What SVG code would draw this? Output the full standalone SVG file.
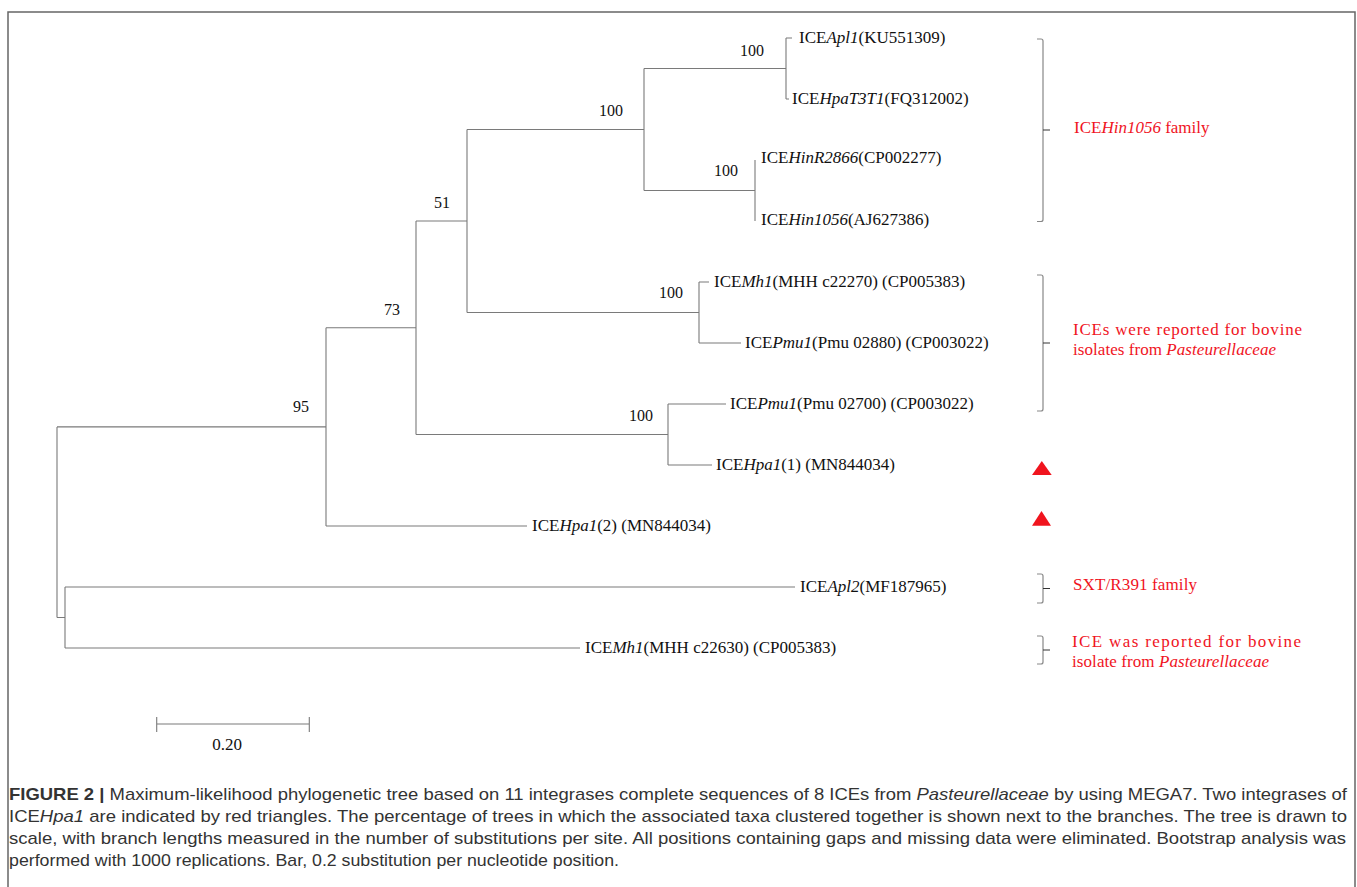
<svg xmlns="http://www.w3.org/2000/svg" width="1357" height="887" viewBox="0 0 1357 887">
<style>
.br{fill:none;stroke:#7a7a7a;stroke-width:1.1}
.lf{font-family:"Liberation Serif","Times New Roman",serif;font-size:17px;fill:#111}
.bs{font-family:"Liberation Serif","Times New Roman",serif;font-size:16px;fill:#111;text-anchor:end}
.red{font-family:"Liberation Serif","Times New Roman",serif;font-size:17px;fill:#f0141e}
.brace{fill:none;stroke:#888;stroke-width:1.2}
.tick{fill:none;stroke:#333;stroke-width:1}
.tri{fill:#f0141e}
.cap{font-family:"Liberation Sans",Arial,sans-serif;font-size:17px;fill:#333}
.it{font-style:italic}
</style>
<rect x="0" y="0" width="1357" height="887" fill="#fff"/>
<path d="M8,887 V12 H1355 V887" fill="none" stroke="#666" stroke-width="1.5"/>

<g id="connectors" class="br">
<path d="M57,426.9 V617.5 M57,426.9 H326 M57,617.5 H65"/>
<path d="M326,327.75 V526 M326,327.75 H416 M326,526 H527"/>
<path d="M416,221 V434.5 M416,221 H467 M416,434.5 H668"/>
<path d="M467,129.5 V312.5 M467,129.5 H644 M467,312.5 H699"/>
<path d="M644,68.5 V190.5 M644,68.5 H786 M644,190.5 H755"/>
<path d="M786,38 V99 M786,38 H792 M786,99 H789"/>
<path d="M755,160 V221"/>
<path d="M699,282 V343 M699,282 H709 M699,343 H741"/>
<path d="M668,404 V465 M668,404 H726 M668,465 H712"/>
<path d="M65,587 V648 M65,587 H795 M65,648 H580"/>
</g>

<g id="leaf-apl1"><text class="lf" x="799" y="42.5">ICE<tspan class="it">Apl1</tspan>(KU551309)</text></g>
<g id="leaf-hpat3t1"><text class="lf" x="792" y="103.5">ICE<tspan class="it">HpaT3T1</tspan>(FQ312002)</text></g>
<g id="leaf-hinr2866"><text class="lf" x="761" y="163">ICE<tspan class="it">HinR2866</tspan>(CP002277)</text></g>
<g id="leaf-hin1056"><text class="lf" x="761" y="225">ICE<tspan class="it">Hin1056</tspan>(AJ627386)</text></g>
<g id="leaf-mh1-c22270"><text class="lf" x="714" y="286.5">ICE<tspan class="it">Mh1</tspan>(MHH c22270) (CP005383)</text></g>
<g id="leaf-pmu1-02880"><text class="lf" x="745" y="347.5">ICE<tspan class="it">Pmu1</tspan>(Pmu 02880) (CP003022)</text></g>
<g id="leaf-pmu1-02700"><text class="lf" x="730" y="408.5">ICE<tspan class="it">Pmu1</tspan>(Pmu 02700) (CP003022)</text></g>
<g id="leaf-hpa1-1"><text class="lf" x="716" y="469.5">ICE<tspan class="it">Hpa1</tspan>(1) (MN844034)</text></g>
<g id="leaf-hpa1-2"><text class="lf" x="532" y="530.5">ICE<tspan class="it">Hpa1</tspan>(2) (MN844034)</text></g>
<g id="leaf-apl2"><text class="lf" x="800" y="591.5">ICE<tspan class="it">Apl2</tspan>(MF187965)</text></g>
<g id="leaf-mh1-c22630"><text class="lf" x="585" y="652.5">ICE<tspan class="it">Mh1</tspan>(MHH c22630) (CP005383)</text></g>

<g id="bootstrap-a"><text class="bs" x="764" y="56">100</text></g>
<g id="bootstrap-c"><text class="bs" x="623" y="116">100</text></g>
<g id="bootstrap-b"><text class="bs" x="738" y="176">100</text></g>
<g id="bootstrap-e"><text class="bs" x="450" y="208">51</text></g>
<g id="bootstrap-d"><text class="bs" x="683" y="298">100</text></g>
<g id="bootstrap-g"><text class="bs" x="400" y="314.5">73</text></g>
<g id="bootstrap-f"><text class="bs" x="653" y="420.5">100</text></g>
<g id="bootstrap-h"><text class="bs" x="309" y="412">95</text></g>

<g id="group-hin1056">
<path class="brace" d="M1037,39 H1041 Q1043,39 1043,41 V219.5 Q1043,221.5 1041,221.5 H1037"/>
<path class="tick" d="M1043,130 H1050"/>
<text class="red" x="1074" y="133">ICE<tspan class="it">Hin1056</tspan> family</text>
</g>
<g id="group-bovine">
<path class="brace" d="M1037,275 H1041 Q1043,275 1043,277 V409 Q1043,411 1041,411 H1037"/>
<path class="tick" d="M1043,343 H1050"/>
<text class="red" x="1073" y="335" textLength="229" lengthAdjust="spacing">ICEs were reported for bovine</text>
<text class="red" x="1073" y="355" textLength="203" lengthAdjust="spacing">isolates from <tspan class="it">Pasteurellaceae</tspan></text>
</g>
<g id="marker-hpa1-1"><polygon class="tri" points="1032,475 1041.8,461 1051.7,475"/></g>
<g id="marker-hpa1-2"><polygon class="tri" points="1032,525.7 1041.5,511 1051,525.7"/></g>
<g id="group-sxt">
<path class="brace" d="M1037,574 H1041 Q1043,574 1043,576 V601 Q1043,603 1041,603 H1037"/>
<path class="tick" d="M1043,588.5 H1050"/>
<text class="red" x="1073" y="590" textLength="124" lengthAdjust="spacing">SXT/R391 family</text>
</g>
<g id="group-bovine-single">
<path class="brace" d="M1037,636 H1041 Q1043,636 1043,638 V662 Q1043,664 1041,664 H1037"/>
<path class="tick" d="M1043,650 H1050"/>
<text class="red" x="1072" y="647" textLength="229" lengthAdjust="spacing">ICE was reported for bovine</text>
<text class="red" x="1072" y="667" textLength="197" lengthAdjust="spacing">isolate from <tspan class="it">Pasteurellaceae</tspan></text>
</g>

<g id="scale-bar">
<path class="br" d="M156.7,724 H309.3 M156.7,717 V732 M309.3,717 V732"/>
<text class="lf" x="227" y="750" text-anchor="middle">0.20</text>
</g>

<g id="caption">
<text class="cap" x="9" y="800" textLength="1338" lengthAdjust="spacingAndGlyphs"><tspan font-weight="bold">FIGURE 2 |</tspan> Maximum-likelihood phylogenetic tree based on 11 integrases complete sequences of 8 ICEs from <tspan class="it">Pasteurellaceae</tspan> by using MEGA7. Two integrases of</text>
<text class="cap" x="9" y="822" textLength="1338" lengthAdjust="spacingAndGlyphs">ICE<tspan class="it">Hpa1</tspan> are indicated by red triangles. The percentage of trees in which the associated taxa clustered together is shown next to the branches. The tree is drawn to</text>
<text class="cap" x="9" y="844" textLength="1337" lengthAdjust="spacingAndGlyphs">scale, with branch lengths measured in the number of substitutions per site. All positions containing gaps and missing data were eliminated. Bootstrap analysis was</text>
<text class="cap" x="9" y="866" textLength="610" lengthAdjust="spacingAndGlyphs">performed with 1000 replications. Bar, 0.2 substitution per nucleotide position.</text>
</g>
</svg>
